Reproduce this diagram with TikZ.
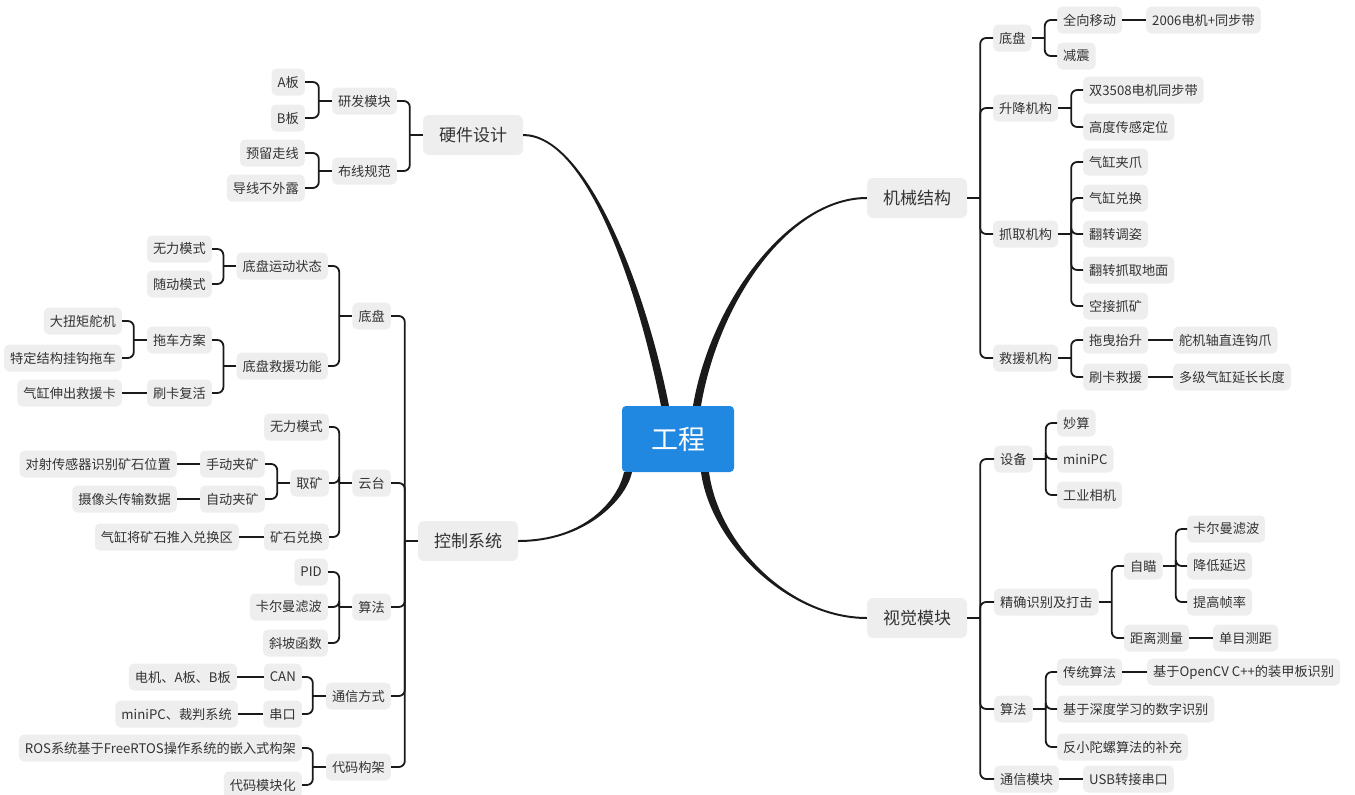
\documentclass[tikz,border=0pt]{standalone}
\usepackage{fontspec}
\setmainfont{Noto Sans CJK SC}
\usetikzlibrary{calc}
\definecolor{boxgray}{HTML}{EEEEEE}
\definecolor{rootblue}{HTML}{2188E2}
\definecolor{txtgray}{HTML}{333333}
\definecolor{linegray}{HTML}{1A1A1A}
% tapered main branch: start, control 1, control 2, end, half width at start, half width at end
\newcommand{\trunk}[6]{\fill[linegray] ($#1+#5$) .. controls ($#2+#5$) and ($#3+#6$) .. ($#4+#6$) -- ($#4-#6$) .. controls ($#3-#6$) and ($#2-#5$) .. ($#1-#5$) -- cycle;}

\begin{document}
\begin{tikzpicture}[x=1pt,y=-1pt,
  root/.style={fill=rootblue,rounded corners=4pt,text=white,font=\fontsize{27}{30}\selectfont,minimum width=112pt,minimum height=66pt,inner sep=0pt},
  topic/.style={fill=boxgray,rounded corners=6pt,text=txtgray,font=\fontsize{17}{20}\selectfont,minimum height=40pt,inner xsep=16pt},
  leaf/.style={fill=boxgray,rounded corners=5pt,text=txtgray,font=\fontsize{13.2}{15}\selectfont,minimum height=27pt,inner xsep=6pt,inner ysep=0pt},
  lf/.style={leaf,anchor=east},
  rt/.style={leaf,anchor=west},
  br/.style={draw=linegray,line width=1.8pt,rounded corners=6pt}]
\useasboundingbox (0,0) rectangle (1355,795);

\node[root] (gc) at (678,439) {工程};
\node[topic] (hw) at (473,135) {硬件设计};
\node[topic] (ctl) at (468,541) {控制系统};
\node[topic] (mech) at (917,198) {机械结构};
\node[topic] (vis) at (917,618) {视觉模块};

% hardware
\node[lf] (hwA) at (397,101) {研发模块};
\node[lf] (hwB) at (397,171) {布线规范};
\node[lf] (hwA1) at (305,82) {A板};
\node[lf] (hwA2) at (305,118) {B板};
\node[lf] (hwB1) at (305,153) {预留走线};
\node[lf] (hwB2) at (305,188) {导线不外露};

% control
\node[lf] (c1) at (391,316) {底盘};
\node[lf] (c2) at (391,483) {云台};
\node[lf] (c3) at (391,607) {算法};
\node[lf] (c4) at (391,696) {通信方式};
\node[lf] (c5) at (391,767) {代码构架};
\node[lf] (c11) at (328,266) {底盘运动状态};
\node[lf] (c12) at (328,366) {底盘救援功能};
\node[lf] (c111) at (212,249) {无力模式};
\node[lf] (c112) at (212,284) {随动模式};
\node[lf] (c121) at (212,340) {拖车方案};
\node[lf] (c122) at (212,393) {刷卡复活};
\node[lf] (c1211) at (122,321) {大扭矩舵机};
\node[lf] (c1212) at (122,358) {特定结构挂钩拖车};
\node[lf] (c1221) at (122,393) {气缸伸出救援卡};
\node[lf] (c21) at (329,427) {无力模式};
\node[lf] (c22) at (329,483) {取矿};
\node[lf] (c23) at (329,537) {矿石兑换};
\node[lf] (c221) at (265,464) {手动夹矿};
\node[lf] (c222) at (265,499) {自动夹矿};
\node[lf] (c2211) at (177,464) {对射传感器识别矿石位置};
\node[lf] (c2221) at (177,499) {摄像头传输数据};
\node[lf] (c231) at (239,537) {气缸将矿石推入兑换区};
\node[lf] (c31) at (328,572) {PID};
\node[lf] (c32) at (328,607) {卡尔曼滤波};
\node[lf] (c33) at (328,643) {斜坡函数};
\node[lf] (c41) at (302,677) {CAN};
\node[lf] (c42) at (302,714) {串口};
\node[lf] (c411) at (237,677) {电机、A板、B板};
\node[lf] (c421) at (238,714) {miniPC、裁判系统};
\node[lf] (c51) at (302,748) {ROS系统基于FreeRTOS操作系统的嵌入式构架};
\node[lf] (c52) at (302,785) {代码模块化};

% mechanics
\node[rt] (m1) at (993,38) {底盘};
\node[rt] (m2) at (993,108) {升降机构};
\node[rt] (m3) at (993,234) {抓取机构};
\node[rt] (m4) at (993,358) {救援机构};
\node[rt] (m11) at (1057,20) {全向移动};
\node[rt] (m12) at (1057,56) {减震};
\node[rt] (m111) at (1146,20) {2006电机+同步带};
\node[rt] (m21) at (1083,90) {双3508电机同步带};
\node[rt] (m22) at (1083,127) {高度传感定位};
\node[rt] (m31) at (1083,162) {气缸夹爪};
\node[rt] (m32) at (1083,198) {气缸兑换};
\node[rt] (m33) at (1083,234) {翻转调姿};
\node[rt] (m34) at (1083,270) {翻转抓取地面};
\node[rt] (m35) at (1083,306) {空接抓矿};
\node[rt] (m41) at (1083,340) {拖曳抬升};
\node[rt] (m42) at (1083,377) {刷卡救援};
\node[rt] (m411) at (1173,340) {舵机轴直连钩爪};
\node[rt] (m421) at (1173,377) {多级气缸延长长度};

% vision
\node[rt] (v1) at (994,459) {设备};
\node[rt] (v2) at (994,602) {精确识别及打击};
\node[rt] (v3) at (994,709) {算法};
\node[rt] (v4) at (994,779) {通信模块};
\node[rt] (v11) at (1057,423) {妙算};
\node[rt] (v12) at (1057,459) {miniPC};
\node[rt] (v13) at (1057,495) {工业相机};
\node[rt] (v21) at (1124,566) {自瞄};
\node[rt] (v22) at (1124,638) {距离测量};
\node[rt] (v211) at (1187,529) {卡尔曼滤波};
\node[rt] (v212) at (1187,566) {降低延迟};
\node[rt] (v213) at (1187,602) {提高帧率};
\node[rt] (v221) at (1213,638) {单目测距};
\node[rt] (v31) at (1057,672) {传统算法};
\node[rt] (v32) at (1057,709) {基于深度学习的数字识别};
\node[rt] (v33) at (1057,747) {反小陀螺算法的补充};
\node[rt] (v311) at (1147,672) {基于OpenCV C++的装甲板识别};
\node[rt] (v41) at (1083,779) {USB转接串口};

% main branches
\coordinate (gtl) at ($(gc.north)+(-13,0)$);
\coordinate (gtr) at ($(gc.north)+(19,0)$);
\coordinate (gbl) at ($(gc.south)+(-50,0)$);
\coordinate (gbr) at ($(gc.south)+(27,0)$);
\trunk{(hw.east)}{(585,135)}{(640,280)}{(gtl)}{(0,-1)}{(4,0)}
\trunk{(mech.west)}{(790,198)}{(715,300)}{(gtr)}{(0,-1)}{(-4,0)}
\trunk{(ctl.east)}{(585,541)}{(622,500)}{(gbl)}{(0,1)}{(4,0)}
\trunk{(vis.west)}{(790,618)}{(715,545)}{(gbr)}{(0,1)}{(-4,0)}

% brackets, left side
\foreach \p/\c in {hw/hwA,hw/hwB,hwA/hwA1,hwA/hwA2,hwB/hwB1,hwB/hwB2,
  ctl/c1,ctl/c2,ctl/c3,ctl/c4,ctl/c5,c1/c11,c1/c12,c11/c111,c11/c112,
  c12/c121,c12/c122,c121/c1211,c121/c1212,c2/c21,c2/c22,c2/c23,
  c22/c221,c22/c222,c3/c31,c3/c32,c3/c33,c4/c41,c4/c42,c5/c51,c5/c52}{
  \draw[br] (\p.west) -- ++(-13,0);
  \draw[br] ($(\p.west)+(-13,0)$) |- (\c.east);
}
\foreach \p/\c in {c122/c1221,c221/c2211,c222/c2221,c23/c231,c41/c411,c42/c421}
  \draw[br] (\p.west) -- (\c.east);

% brackets, right side
\foreach \p/\c in {mech/m1,mech/m2,mech/m3,mech/m4,m1/m11,m1/m12,m2/m21,m2/m22,
  m3/m31,m3/m32,m3/m33,m3/m34,m3/m35,m4/m41,m4/m42,
  vis/v1,vis/v2,vis/v3,vis/v4,v1/v11,v1/v12,v1/v13,v2/v21,v2/v22,
  v21/v211,v21/v212,v21/v213,v3/v31,v3/v32,v3/v33}{
  \draw[br] (\p.east) -- ++(13,0);
  \draw[br] ($(\p.east)+(13,0)$) |- (\c.west);
}
\foreach \p/\c in {m11/m111,m41/m411,m42/m421,v22/v221,v31/v311,v4/v41}
  \draw[br] (\p.east) -- (\c.west);
\end{tikzpicture}
\end{document}
